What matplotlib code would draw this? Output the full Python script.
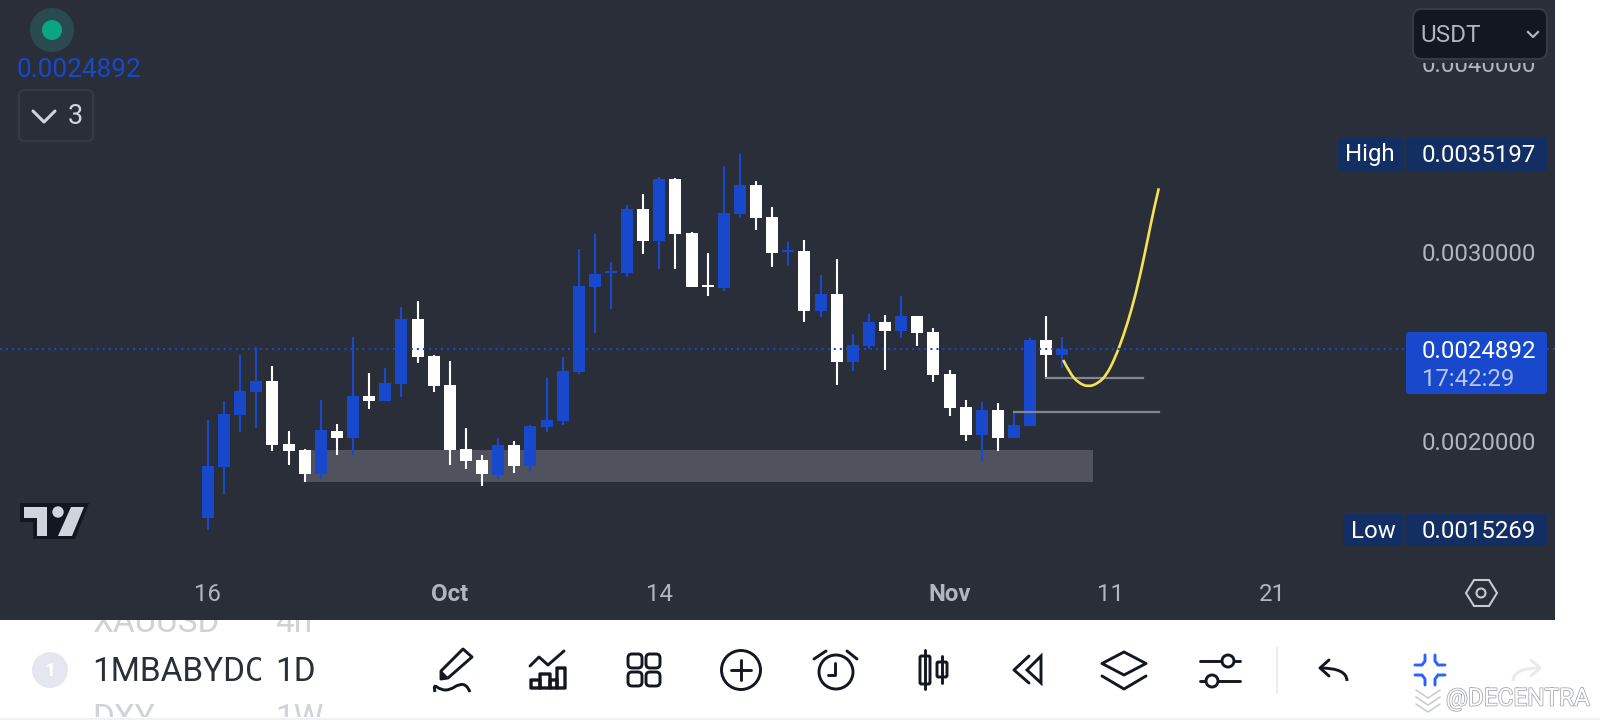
import numpy as np
import matplotlib
matplotlib.use('Agg')
import matplotlib.pyplot as plt
import matplotlib.patheffects as pe
from matplotlib.patches import Rectangle, FancyBboxPatch, Circle, Polygon, PathPatch
from matplotlib.path import Path

plt.rcParams['font.family'] = ['Roboto', 'DejaVu Sans']

# daily candles
opens = [0.0015926, 0.0018624, 0.0021376, 0.0022593, 0.0023175, 0.0019841, 0.0019524, 0.0018254, 0.0020529,
         0.0020159, 0.0022381, 0.0022116, 0.0023016, 0.0026455, 0.0024497, 0.0022963, 0.0019577, 0.0018995,
         0.0018201, 0.0019788, 0.0018677, 0.0020741, 0.0021058, 0.0023651, 0.0028148, 0.0028889, 0.0028889,
         0.0032275, 0.0030582, 0.0033863, 0.0031005, 0.0028254, 0.0028095, 0.0032011, 0.0033545, 0.0031852,
         0.0030000, 0.0030053, 0.0026878, 0.0027778, 0.0024180, 0.0025027, 0.0026296, 0.0025820, 0.0026614,
         0.0025767, 0.0023545, 0.0021799, 0.0020317, 0.0021640, 0.0020159, 0.0020794, 0.0025344, 0.0024550]
highs = [0.0021111, 0.0022116, 0.0024550, 0.0024974, 0.0023968, 0.0020529, 0.0019577, 0.0022169, 0.0020899,
         0.0025503, 0.0023598, 0.0023863, 0.0027090, 0.0027408, 0.0024550, 0.0024233, 0.0020688, 0.0019259,
         0.0020159, 0.0020000, 0.0020847, 0.0023333, 0.0024445, 0.0030159, 0.0030953, 0.0029471, 0.0032487,
         0.0033069, 0.0033969, 0.0033916, 0.0031058, 0.0029947, 0.0034551, 0.0035197, 0.0033757, 0.0032381,
         0.0030529, 0.0030635, 0.0028783, 0.0029630, 0.0025661, 0.0026720, 0.0026667, 0.0027672, 0.0026614,
         0.0025979, 0.0023757, 0.0022169, 0.0022064, 0.0022011, 0.0021587, 0.0025450, 0.0026614, 0.0025503]
lows = [0.0015269, 0.0017196, 0.0020476, 0.0020688, 0.0019471, 0.0018730, 0.0017831, 0.0017989, 0.0019259,
        0.0019259, 0.0021693, 0.0022116, 0.0022328, 0.0024127, 0.0022593, 0.0018730, 0.0018518, 0.0017619,
        0.0017989, 0.0018307, 0.0018413, 0.0020476, 0.0020847, 0.0023545, 0.0025714, 0.0026984, 0.0028677,
        0.0029894, 0.0029101, 0.0029101, 0.0028148, 0.0027672, 0.0027937, 0.0031799, 0.0031164, 0.0029206,
        0.0029259, 0.0026296, 0.0026561, 0.0022963, 0.0023704, 0.0024868, 0.0023757, 0.0025450, 0.0025027,
        0.0023122, 0.0021323, 0.0020000, 0.0018942, 0.0019471, 0.0020159, 0.0020794, 0.0023333, 0.0023863]
closes = [0.0018677, 0.0021429, 0.0022646, 0.0023175, 0.0019788, 0.0019471, 0.0018254, 0.0020582, 0.0020159,
          0.0022381, 0.0022116, 0.0023069, 0.0026455, 0.0024445, 0.0022910, 0.0019524, 0.0018942, 0.0018254,
          0.0019788, 0.0018677, 0.0020794, 0.0021111, 0.0023704, 0.0028201, 0.0028836, 0.0028995, 0.0032275,
          0.0030582, 0.0033863, 0.0030953, 0.0028148, 0.0028148, 0.0032064, 0.0033545, 0.0031799, 0.0029947,
          0.0030106, 0.0026878, 0.0027778, 0.0024180, 0.0025079, 0.0026296, 0.0025820, 0.0026614, 0.0025714,
          0.0023492, 0.0021746, 0.0020317, 0.0021640, 0.0020159, 0.0020847, 0.0025344, 0.0024550, 0.0024892]

x_tick_pos = [0, 15, 28, 46, 56, 66]
x_tick_labels = ['16', 'Oct', '14', 'Nov', '11', '21']
y_tick_pos = [0.002, 0.003, 0.004]
y_tick_labels = ['0.0020000', '0.0030000', '0.0040000']

last_price = 0.0024892
high_text = '0.0035197'
low_text = '0.0015269'
last_text = '0.0024892'
timer_text = '17:42:29'

# hand drawn things on the chart
zone_x = [6.0, 54.9]
zone_y = [0.0017831, 0.0019524]
level1_x = [52.0, 58.0]
level1_y = 0.0023349
level2_x = [50.0, 59.0]
level2_y = 0.0021550
curve_x = [53.05, 53.47, 53.98, 54.60, 55.22, 55.74, 56.26, 56.77, 57.29, 57.81, 58.33, 58.64, 58.98]
curve_y = [0.0024286, 0.0023582, 0.0023085, 0.0022857, 0.0023053, 0.0023492, 0.0024376, 0.0025519,
           0.0026931, 0.0028693, 0.0030810, 0.0032132, 0.0033370]

BG = '#2a2e39'
BLUE = '#1848cc'
NAVY = '#132e63'
GREY = '#b2b5be'
INK = '#131722'


def smooth_path(xs, ys):
    # quadratic segments through the midpoints, so the sketch has no corners
    verts = [(xs[0], ys[0])]
    codes = [Path.MOVETO]
    for i in range(1, len(xs) - 1):
        verts.append((xs[i], ys[i]))
        codes.append(Path.CURVE3)
        if i < len(xs) - 2:
            end = ((xs[i] + xs[i + 1]) / 2, (ys[i] + ys[i + 1]) / 2)
        else:
            end = (xs[-1], ys[-1])
        verts.append(end)
        codes.append(Path.CURVE3)
    return Path(verts, codes)


def draw_chart(fig):
    # chart pane is 1555x620 px, one candle every 16.12 px, 0.001 = 189 px
    ax = fig.add_axes([0, 100 / 720, 1555 / 1600, 620 / 720])
    ax.set_facecolor(BG)
    ax.set_xlim((0 - 208) / 16.12, (1555 - 208) / 16.12)
    ax.set_ylim(0.002 - 179 / 189000, 0.002 + 441 / 189000)
    for s in ax.spines.values():
        s.set_visible(False)

    ax.add_patch(Rectangle((zone_x[0], zone_y[0]), zone_x[1] - zone_x[0], zone_y[1] - zone_y[0],
                           facecolor='#50535e', edgecolor='none', zorder=2))

    x = np.arange(len(opens))
    o = np.array(opens)
    c = np.array(closes)
    colors = [BLUE if c[i] >= o[i] else 'white' for i in x]
    ax.vlines(x, lows, highs, colors=colors, linewidth=1.5, zorder=3)
    ax.bar(x, np.abs(c - o), bottom=np.minimum(o, c), width=0.745, color=colors, zorder=3)

    ax.plot(level1_x, [level1_y, level1_y], color='#85868f', lw=1.6, zorder=4)
    ax.plot(level2_x, [level2_y, level2_y], color='#85868f', lw=1.6, zorder=4)
    ax.add_patch(PathPatch(smooth_path(curve_x, curve_y), facecolor='none', edgecolor='#f5e353',
                           lw=1.9, zorder=5))

    ax.axhline(last_price, color=BLUE, lw=1.45, linestyle=(0, (1.0, 2.0)), zorder=6)

    ax.set_xticks(x_tick_pos)
    ax.set_xticklabels(x_tick_labels, fontsize=17.3, color=GREY)
    ax.tick_params(axis='x', length=0, pad=-26.5)
    for lab in ax.get_xticklabels():
        if lab.get_text() in ('Oct', 'Nov'):
            lab.set_fontweight('bold')

    ax.yaxis.tick_right()
    ax.set_yticks(y_tick_pos)
    ax.set_yticklabels(y_tick_labels, fontsize=17.3, color=GREY)
    ax.tick_params(axis='y', length=0, pad=-14)
    for lab in ax.get_yticklabels():
        lab.set_ha('right')
    return ax


def box(ov, x, y, w, h, color, r=3, edge='none', lw=0, z=5):
    ov.add_patch(FancyBboxPatch((x, y), w, h, boxstyle='round,pad=0,rounding_size=%s' % r,
                                facecolor=color, edgecolor=edge, linewidth=lw, zorder=z))


def draw_panel_widgets(ov):
    # top left status
    ov.add_patch(Circle((52, 30), 22, facecolor='#2b4a4f', edgecolor='none'))
    ov.add_patch(Circle((52, 30), 10, facecolor='#0aa583', edgecolor='none'))
    ov.text(16, 70, last_text, color=BLUE, fontsize=18.8, va='center')
    box(ov, 19, 90, 74, 51, 'none', r=6, edge='#363a45', lw=1.5)
    ov.plot([33, 44, 55], [111, 122, 111], color='#d1d4dc', lw=2.2, solid_capstyle='round')
    ov.text(68, 117, '3', color='#d1d4dc', fontsize=19.5, va='center')

    # currency selector sits over the 0.004 label, the label is hidden down to y=63
    ov.add_patch(Rectangle((1413, 50), 134, 13, facecolor=BG, edgecolor='none', zorder=4))
    box(ov, 1413, 9, 134, 50, INK, r=9, edge='#363a45', lw=1.5)
    ov.text(1420, 36, 'USDT', color=GREY, fontsize=17.5, va='center', zorder=6)
    ov.plot([1528, 1533, 1538], [32, 37, 32], color=GREY, lw=1.6, zorder=6)

    # price labels
    box(ov, 1338, 137, 66, 34, NAVY)
    box(ov, 1406, 137, 141, 34, NAVY)
    ov.text(1370, 155, 'High', color='white', fontsize=17.3, ha='center', va='center', zorder=6)
    ov.text(1536, 156, high_text, color='white', fontsize=17.3, ha='right', va='center', zorder=6)

    box(ov, 1343, 514, 60, 32, NAVY)
    box(ov, 1406, 514, 141, 32, NAVY)
    ov.text(1373, 532, 'Low', color='white', fontsize=17.3, ha='center', va='center', zorder=6)
    ov.text(1536, 532, low_text, color='white', fontsize=17.3, ha='right', va='center', zorder=6)

    box(ov, 1406, 332, 141, 62, BLUE)
    ov.text(1536, 352, last_text, color='white', fontsize=17.3, ha='right', va='center', zorder=6)
    ov.text(1422, 380, timer_text, color='#b9c6ec', fontsize=17.3, va='center', zorder=6)

    # tradingview logo
    ov.add_patch(Polygon([(20, 503), (89, 503), (75, 539), (33, 539), (33, 522), (20, 522)],
                         facecolor=INK, edgecolor='none'))
    ov.add_patch(Polygon([(24, 507), (47, 507), (47, 536), (37, 536), (37, 518), (24, 518)],
                         facecolor='#d1d4dc', edgecolor='none'))
    ov.add_patch(Circle((58, 512), 5.7, facecolor='#d1d4dc', edgecolor='none'))
    ov.add_patch(Polygon([(71, 507), (84, 507), (72, 536), (58, 536)], facecolor='#d1d4dc', edgecolor='none'))

    # settings hexagon
    ov.add_patch(Polygon([(1466, 593), (1474, 580), (1489, 580), (1497, 593), (1489, 606), (1474, 606)],
                         facecolor='none', edgecolor='#c8cad2', lw=1.5))
    ov.add_patch(Circle((1481, 593), 4.5, facecolor='none', edgecolor='#c8cad2', lw=1.5))


def line(ov, xs, ys, color=INK, lw=2.1, cap='round'):
    ov.plot(xs, ys, color=color, lw=lw, solid_capstyle=cap, solid_joinstyle='round')


def rect_icon(ov, x, y, w, h, r=3, lw=2.1, face='none'):
    ov.add_patch(FancyBboxPatch((x, y), w, h, boxstyle='round,pad=0,rounding_size=%s' % r,
                                facecolor=face, edgecolor=INK, linewidth=lw))


def list_text(ov, x, y, s, color, clip):
    # symbol rows are cut off by the list area, so each has its own clip
    t = ov.text(x, y, s, color=color, fontsize=24, va='center', zorder=1)
    t.set_clip_path(Rectangle((clip[0], clip[1]), clip[2], clip[3], transform=ov.transData))
    t.set_clip_on(True)


def draw_toolbar(ov):
    ov.add_patch(Circle((50, 670), 18, facecolor='#e4e7ef', edgecolor='none'))
    ov.text(50, 671, '1', color='white', fontsize=14, ha='center', va='center', fontweight='bold')

    list_text(ov, 92, 623, 'XAUUSD', '#d0d2d8', (90, 620, 180, 30))
    list_text(ov, 275, 623, '4h', '#d0d2d8', (270, 620, 60, 30))
    list_text(ov, 92, 672, '1MBABYDOGE', BG, (90, 640, 171, 60))
    list_text(ov, 275, 672, '1D', BG, (270, 640, 60, 60))
    list_text(ov, 92, 719, 'DXY', '#d0d2d8', (90, 700, 120, 17))
    list_text(ov, 275, 719, '1W', '#d0d2d8', (270, 700, 60, 17))

    # pencil
    ov.add_patch(Polygon([(441, 671), (463, 649), (472, 657), (448, 678), (441, 679)],
                         facecolor='none', edgecolor=INK, lw=2.1, joinstyle='round'))
    ov.add_patch(Polygon([(441, 671), (448, 678), (441, 679)], facecolor=INK, edgecolor=INK, lw=1))
    ov.add_patch(PathPatch(smooth_path([435, 433, 441, 450, 459, 467, 470], [692, 684, 690, 690, 684, 685, 692]),
                           facecolor='none', edgecolor=INK, lw=2.1))

    # indicators
    line(ov, [530, 539, 548, 564], [666, 657, 665, 651])
    for bx, by, bw, bh in [(531, 680, 9, 8), (540, 674, 10, 14), (550, 680, 7, 8), (557, 668, 8, 20)]:
        rect_icon(ov, bx, by, bw, bh, r=0.1, lw=2.4)

    # templates
    for bx in (628, 646):
        for by in (654, 672):
            rect_icon(ov, bx, by, 14, 14, r=4)

    # plus
    ov.add_patch(Circle((741, 670), 19.5, facecolor='none', edgecolor=INK, lw=2.1))
    line(ov, [731, 751], [670, 670])
    line(ov, [741, 741], [660, 680])

    # alarm
    ov.add_patch(Circle((836, 672), 17, facecolor='none', edgecolor=INK, lw=2.1))
    line(ov, [835, 835, 828], [663, 675, 675])
    line(ov, [814, 826], [659, 651])
    line(ov, [847, 857], [651, 659])

    # candle type
    line(ov, [925, 925], [650, 689])
    rect_icon(ov, 920, 656, 10, 28, r=1.5, face='white')
    line(ov, [942, 942], [656, 683])
    rect_icon(ov, 937, 662, 10, 15, r=1.5, face='white')

    # replay
    line(ov, [1029, 1014, 1029], [656, 670, 683])
    ov.add_patch(Polygon([(1041, 656), (1027, 670), (1041, 683)], facecolor='none', edgecolor=INK, lw=2.1))

    # layers
    ov.add_patch(Polygon([(1124, 652), (1146, 663.5), (1124, 675), (1102, 663.5)],
                         facecolor='none', edgecolor=INK, lw=2.1, joinstyle='round'))
    line(ov, [1102, 1124, 1146], [676, 689, 676])

    # sliders
    line(ov, [1200, 1240], [661, 661])
    ov.add_patch(Circle((1228, 661), 6, facecolor='white', edgecolor=INK, lw=2.1, zorder=4))
    line(ov, [1200, 1240], [681, 681])
    ov.add_patch(Circle((1212, 681), 6, facecolor='white', edgecolor=INK, lw=2.1, zorder=4))

    # divider
    line(ov, [1277, 1277], [646, 694], color='#e8eaee', lw=1.2, cap='butt')

    # undo, redo
    line(ov, [1329, 1320, 1329], [660, 668, 676])
    ov.add_patch(PathPatch(smooth_path([1320, 1347, 1347], [668, 668, 681]), facecolor='none', edgecolor=INK,
                           lw=2.1))
    line(ov, [1531, 1540, 1531], [660, 668, 676], color='#e8eaee')
    ov.add_patch(PathPatch(smooth_path([1540, 1513, 1513], [668, 668, 681]), facecolor='none',
                           edgecolor='#e8eaee', lw=2.1))

    # collapse, blue
    b = '#2962ff'
    line(ov, [1425, 1425, 1422, 1415], [655, 661, 665, 665], color=b)
    line(ov, [1435, 1435, 1438, 1445], [655, 661, 665, 665], color=b)
    line(ov, [1415, 1422, 1425, 1425], [675, 675, 679, 685], color=b)
    line(ov, [1445, 1438, 1435, 1435], [675, 675, 679, 685], color=b)

    # watermark
    for dy in (0, 7, 14):
        ov.plot([1416, 1428, 1440], [690 + dy, 698 + dy, 690 + dy], color='#c4c6cc', lw=1)
    t = ov.text(1446, 699, '@DECENTRA', color='white', fontsize=17.5, va='center', zorder=6)
    t.set_path_effects([pe.withStroke(linewidth=1.2, foreground='#a9abb2')])


def main():
    fig = plt.figure(figsize=(16, 7.2), dpi=100, facecolor='white')
    draw_chart(fig)

    # overlay in screen pixels for the app chrome
    ov = fig.add_axes([0, 0, 1, 1], zorder=10)
    ov.set_xlim(0, 1600)
    ov.set_ylim(720, 0)
    ov.axis('off')
    ov.add_patch(Rectangle((0, 717.5), 1600, 2.5, facecolor='#eef2f7', edgecolor='none', zorder=3))
    draw_panel_widgets(ov)
    draw_toolbar(ov)

    fig.savefig('out.png', dpi=100, facecolor='white')


if __name__ == '__main__':
    main()
